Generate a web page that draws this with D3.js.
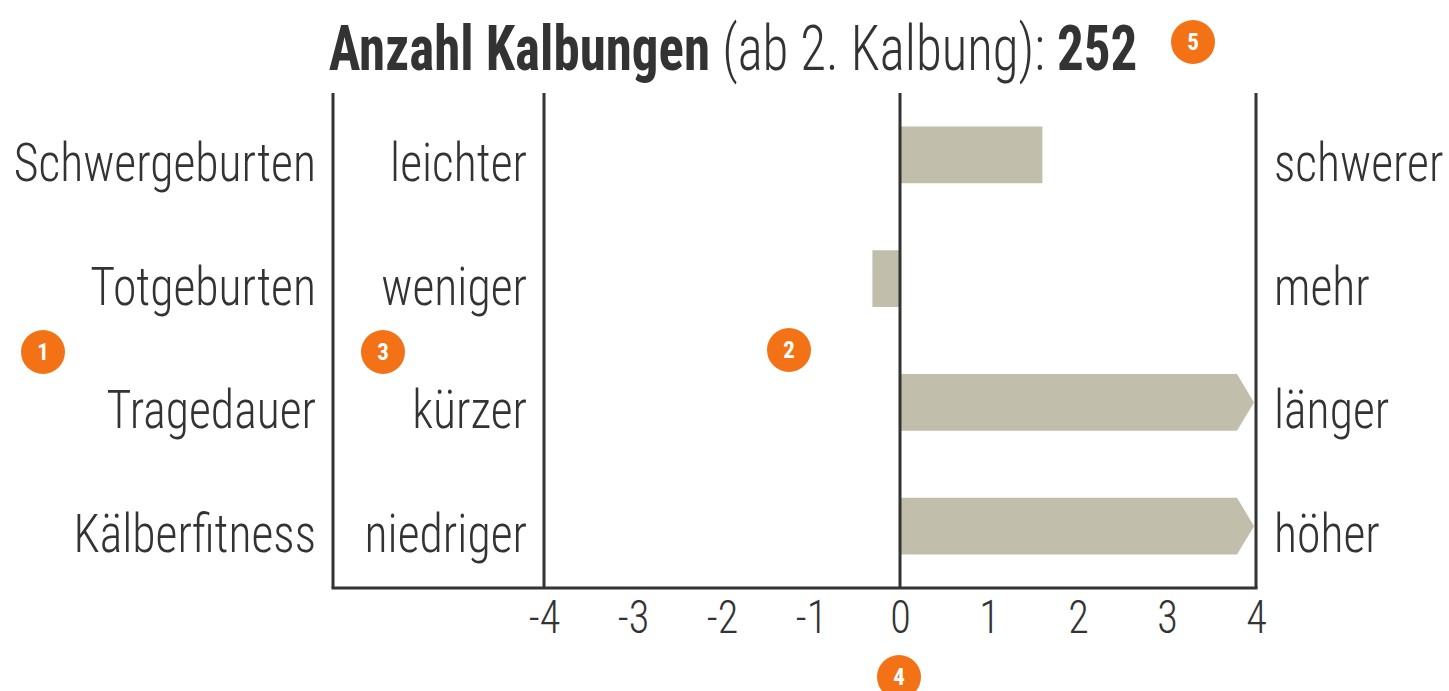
<!DOCTYPE html>
<html>
<head>
<meta charset="utf-8">
<script src="https://cdn.jsdelivr.net/npm/d3@7"></script>
<style>
  body { margin: 0; background: #fff; }
  text { font-family: "Roboto Condensed", "Liberation Sans Narrow", "DejaVu Sans Condensed", Roboto, sans-serif; font-stretch: condensed; fill: #333; }
</style>
</head>
<body>
<script>
var categories = ["Schwergeburten", "Totgeburten", "Tragedauer", "Kälberfitness"];
var lowLabels = ["leichter", "weniger", "kürzer", "niedriger"];
var highLabels = ["schwerer", "mehr", "länger", "höher"];
// values beyond +4 are cut off and drawn with an arrow tip
var values = [1.6, -0.31, 5, 5];
var ticks = [-4, -3, -2, -1, 0, 1, 2, 3, 4];
var badges = [
    {n: "1", x: 43, y: 352},
    {n: "2", x: 789, y: 350},
    {n: "3", x: 383, y: 352},
    {n: "4", x: 899, y: 677},
    {n: "5", x: 1193, y: 42}
];

var width = 1449, height = 691;
var margin = {top: 93, left: 333, bottom: 103};

var svg = d3.select("body").append("svg")
    .attr("width", width)
    .attr("height", height);

var x = d3.scaleLinear()
    .domain([-4, 4])
    .range([544, 1256]);

var y = d3.scaleBand()
    .domain(categories)
    .range([margin.top, height - margin.bottom])
    .paddingInner(0.54)
    .paddingOuter(0.27);

// squeeze text horizontally, the original face is narrower than what we have
function squeezed(parent, px, py, k) {
    return parent.append("g")
        .attr("transform", "translate(" + px + "," + py + ") scale(" + k + ",1)")
        .append("text");
}

// title
var title = squeezed(svg, 733, 70, 0.855)
    .attr("text-anchor", "middle")
    .style("font-size", "62px");
title.append("tspan").attr("font-weight", 700).text("Anzahl Kalbungen ");
title.append("tspan").attr("font-weight", 300).text("(ab 2. Kalbung): ");
title.append("tspan").attr("font-weight", 700).text("252");

// bars
var tip = 17;
function barPath(v, cat) {
    var y0 = y(cat), y1 = y(cat) + y.bandwidth(), x0 = x(0);
    if (v > 4) {
        var xe = x(4) - 2;
        return "M" + x0 + "," + y0 + "L" + (xe - tip) + "," + y0 +
            "L" + xe + "," + (y0 + y1) / 2 + "L" + (xe - tip) + "," + y1 +
            "L" + x0 + "," + y1 + "Z";
    }
    var xv = x(v);
    return "M" + x0 + "," + y0 + "L" + xv + "," + y0 + "L" + xv + "," + y1 + "L" + x0 + "," + y1 + "Z";
}

svg.selectAll(".bar")
    .data(values)
    .enter()
    .append("path")
    .attr("class", "bar")
    .attr("fill", "#c1beab")
    .attr("d", (d, i) => barPath(d, categories[i]));

// frame lines
var lineColor = "#333";
[margin.left, x(-4), x(0), x(4)].forEach(function(xx) {
    svg.append("line")
        .attr("x1", xx).attr("x2", xx)
        .attr("y1", margin.top).attr("y2", height - margin.bottom)
        .attr("stroke", lineColor)
        .attr("stroke-width", 3);
});

svg.append("line")
    .attr("x1", margin.left - 1.5).attr("x2", x(4) + 1.5)
    .attr("y1", height - margin.bottom).attr("y2", height - margin.bottom)
    .attr("stroke", lineColor)
    .attr("stroke-width", 3);

// bottom tick labels
var axis = svg.append("g")
    .attr("transform", "translate(0," + (height - margin.bottom) + ")")
    .call(d3.axisBottom(x).tickValues(ticks).tickSize(0).tickPadding(0).tickFormat(d => String(d)));
axis.select(".domain").remove();
axis.selectAll(".tick text").remove();
axis.selectAll(".tick").each(function(d) {
    squeezed(d3.select(this), 0, 45, 0.9)
        .attr("text-anchor", "middle")
        .attr("font-weight", 300)
        .style("font-size", "47px")
        .text(String(d));
});

// labels
var labelSize = "54px";
var squeeze = 0.885;
categories.forEach(function(cat, i) {
    var cy = y(cat) + y.bandwidth() / 2;
    squeezed(svg, 316, cy, squeeze)
        .attr("dy", "0.48em")
        .attr("text-anchor", "end")
        .attr("font-weight", 300)
        .style("font-size", labelSize)
        .text(cat);
    squeezed(svg, 527, cy, squeeze)
        .attr("dy", "0.48em")
        .attr("text-anchor", "end")
        .attr("font-weight", 300)
        .style("font-size", labelSize)
        .text(lowLabels[i]);
    squeezed(svg, 1274, cy, squeeze)
        .attr("dy", "0.48em")
        .attr("font-weight", 300)
        .style("font-size", labelSize)
        .text(highLabels[i]);
});

// numbered badges
var badge = svg.selectAll(".badge")
    .data(badges)
    .enter()
    .append("g")
    .attr("class", "badge")
    .attr("transform", d => "translate(" + d.x + "," + d.y + ")");
badge.append("circle")
    .attr("r", 22)
    .attr("fill", "#f47216");
badge.append("text")
    .attr("text-anchor", "middle")
    .attr("dy", "0.36em")
    .attr("font-weight", 700)
    .style("font-size", "23px")
    .style("fill", "#fff")
    .text(d => d.n);
</script>
</body>
</html>
